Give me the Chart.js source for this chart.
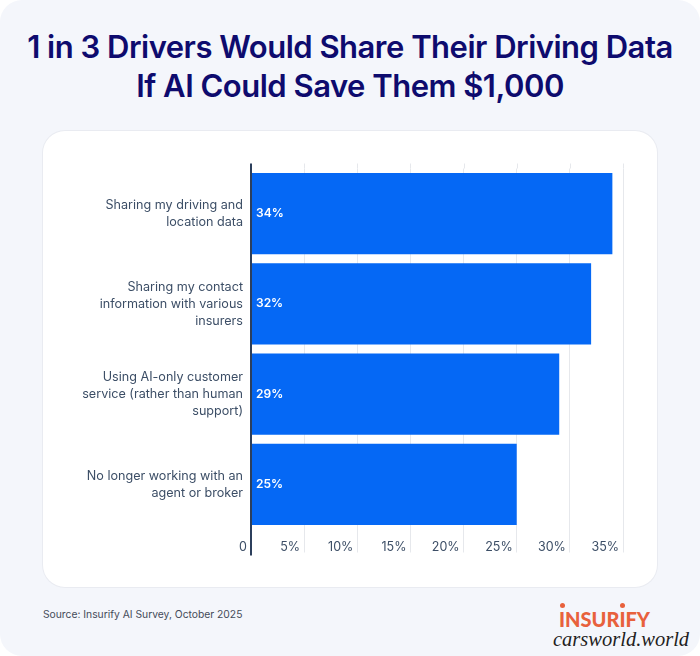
<!DOCTYPE html>
<html lang="en">
<head>
  <meta charset="UTF-8" />
  <title>1 in 3 Drivers Would Share Their Driving Data</title>
  <script src="https://cdn.jsdelivr.net/npm/chart.js"></script>
  <style>
    html, body { margin: 0; padding: 0; background: #fff; }
    #page {
      position: relative;
      width: 700px;
      height: 656px;
      background: #f4f6fb;
      border-radius: 22px;
      overflow: hidden;
      font-family: Inter, Arial, sans-serif;
    }
    h1 {
      position: absolute;
      left: 0;
      top: 27px;
      width: 700px;
      margin: 0;
      text-align: center;
      color: #0e0b6e;
      font-size: 31px;
      line-height: 39px;
      font-weight: 600;
      letter-spacing: -0.5px;
    }
    #card {
      position: absolute;
      left: 43px;
      top: 131px;
      width: 614px;
      height: 456px;
      background: #fff;
      border-radius: 22px;
      box-shadow: 0 0 0 1px #e9ebf1;
    }
    #source {
      position: absolute;
      left: 43px;
      top: 608px;
      font-size: 10.3px;
      color: #444b59;
    }
    #logo {
      position: absolute;
      left: 559px;
      top: 605px;
      font-family: Lato, Arial, sans-serif;
      font-size: 20px;
      line-height: 28px;
      font-weight: 900;
      color: #e8613c;
    }
    .dot { position: absolute; width: 5px; height: 5px; border-radius: 50%; background: #e8613c; }
    #mark {
      position: absolute;
      left: 553px;
      top: 627px;
      font-family: "Liberation Serif", serif;
      font-style: italic;
      font-size: 20.5px;
      line-height: 24px;
      color: #222;
      text-shadow: 0 0 1px #fff;
    }
  </style>
</head>
<body>
  <div id="page">
    <h1>1 in 3 Drivers Would Share Their Driving Data<br>If AI Could Save Them $1,000</h1>
    <div id="card"><canvas id="chart" width="614" height="456"></canvas></div>
    <div id="source">Source: Insurify AI Survey, October 2025</div>
    <div id="logo">INSURIFY</div>
    <div class="dot" style="left:560px;top:603px"></div>
    <div class="dot" style="left:620px;top:603px"></div>
    <div id="mark">carsworld.world</div>
  </div>

  <script>
    const categories = [
      ["Sharing my driving and", "location data"],
      ["Sharing my contact", "information with various", "insurers"],
      ["Using AI-only customer", "service (rather than human", "support)"],
      ["No longer working with an", "agent or broker"]
    ];
    const shares = [34, 32, 29, 25];

    const labelColor = '#3c4e66';
    const gridColor = '#e6e8ec';
    const axisColor = '#2c3f5c';

    // axis line and grid stubs run a bit past the chart area, values sit inside the bars
    const extras = {
      id: 'extras',
      beforeDatasetsDraw(chart) {
        const { ctx, scales: { x }, chartArea } = chart;
        ctx.save();
        ctx.strokeStyle = gridColor;
        ctx.lineWidth = 1;
        x.ticks.forEach((t, i) => {
          if (i === 0) return;
          const px = Math.round(x.getPixelForTick(i)) + 0.5;
          ctx.beginPath();
          ctx.moveTo(px, chartArea.top - 5);
          ctx.lineTo(px, chartArea.top);
          ctx.stroke();
        });
        ctx.restore();
      },
      afterDraw(chart) {
        const { ctx, scales: { x }, chartArea } = chart;
        const x0 = x.getPixelForValue(0);
        ctx.save();
        ctx.strokeStyle = axisColor;
        ctx.lineWidth = 2;
        ctx.beginPath();
        ctx.moveTo(x0, chartArea.top - 5);
        ctx.lineTo(x0, chartArea.bottom + 26);
        ctx.stroke();
        ctx.fillStyle = '#fff';
        ctx.font = '600 12px Inter';
        ctx.textAlign = 'left';
        ctx.textBaseline = 'middle';
        chart.getDatasetMeta(0).data.forEach((bar, i) => {
          ctx.fillText(shares[i] + '%', x0 + 5, bar.y);
        });
        ctx.restore();
      }
    };

    new Chart(document.getElementById('chart'), {
      type: 'bar',
      plugins: [extras],
      data: {
        labels: categories,
        datasets: [{
          data: shares,
          backgroundColor: '#0568f5',
          barPercentage: 0.9,
          categoryPercentage: 1
        }]
      },
      options: {
        indexAxis: 'y',
        responsive: false,
        animation: false,
        layout: { padding: { top: 37.5, right: 34, left: 0, bottom: 0 } },
        plugins: { legend: { display: false }, tooltip: { enabled: false } },
        scales: {
          x: {
            min: 0,
            max: 35,
            afterFit(scale) { scale.height = 57.5; },
            border: { display: false },
            grid: { color: gridColor, tickColor: gridColor, tickLength: 23 },
            ticks: {
              stepSize: 5,
              maxRotation: 0,
              align: 'end',
              labelOffset: -4,
              padding: -13,
              color: labelColor,
              font: { family: 'Inter', size: 12.5 },
              callback: v => v === 0 ? '0' : v + '%'
            }
          },
          y: {
            afterFit(scale) { scale.width = 208; },
            border: { display: false },
            grid: { display: false, drawTicks: false },
            ticks: {
              padding: 8,
              color: labelColor,
              font: { family: 'Inter', size: 12.6, lineHeight: 1.34 }
            }
          }
        }
      }
    });
  </script>
</body>
</html>
